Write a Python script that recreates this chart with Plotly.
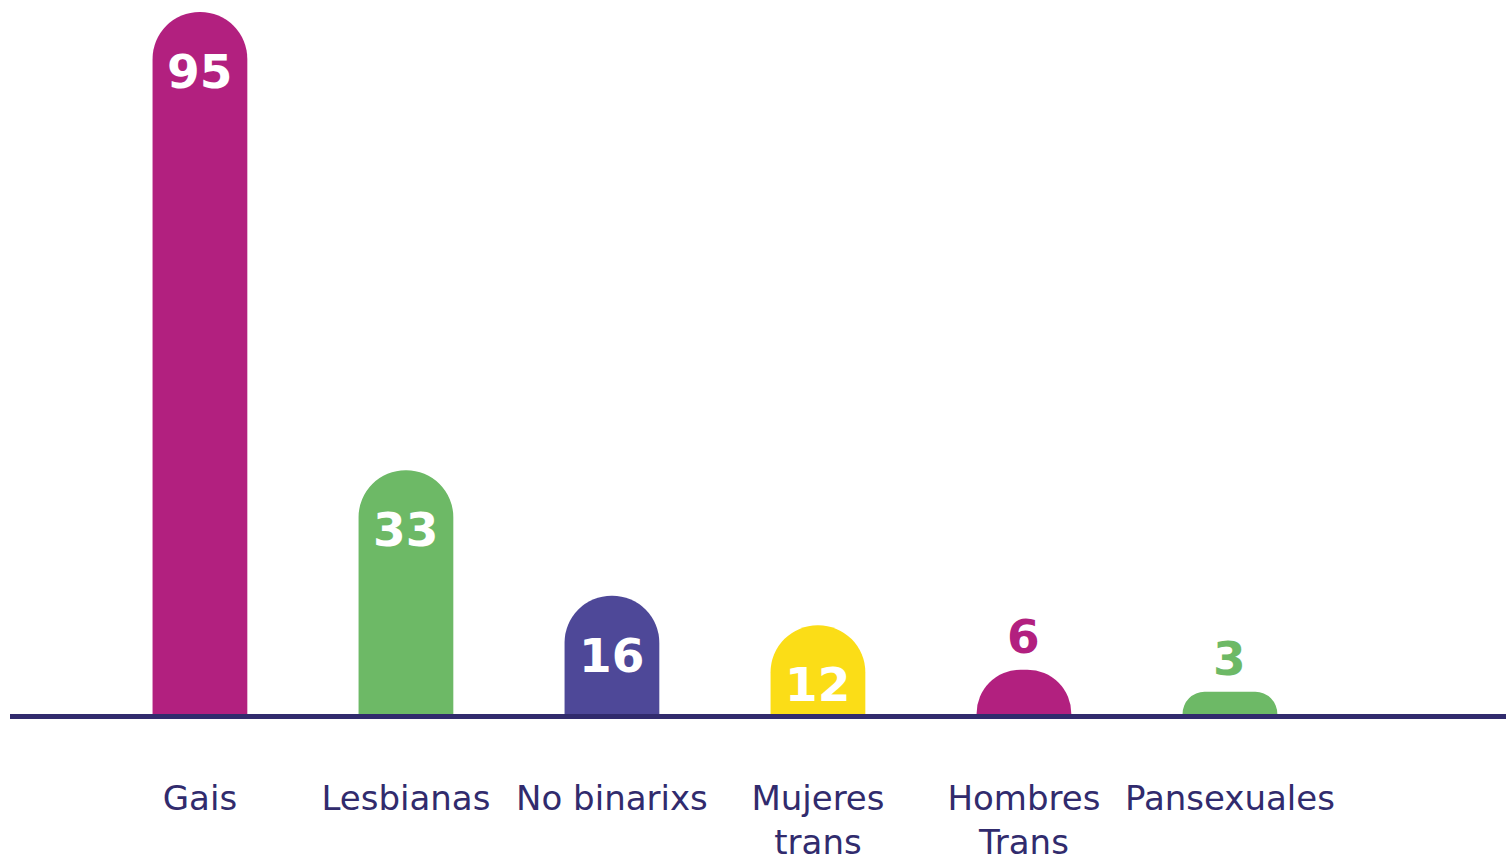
import plotly.graph_objects as go

categories = ["Gais", "Lesbianas", "No binarixs", "Mujeres<br>trans", "Hombres<br>Trans", "Pansexuales"]
values = [95, 33, 16, 12, 6, 3]
colors = ["#B2207F", "#6DB966", "#4E4898", "#FBDD17", "#B2207F", "#6DB966"]

NAVY = "#312B6D"

fig = go.Figure(
    go.Bar(
        x=categories,
        y=values,
        marker=dict(color=colors, line=dict(width=0), cornerradius="50%"),
        width=0.46,
        hoverinfo="skip",
    )
)

# value labels: white inside the rounded top when the bar is tall enough, otherwise above in bar colour
for c, v, col in zip(categories, values, colors):
    inside = v >= 10
    fig.add_annotation(
        x=c, y=v, text=f"<b>{v}</b>", showarrow=False,
        yanchor="top" if inside else "bottom",
        yshift=-30 if inside else 4,
        font=dict(family="DejaVu Sans", size=47, color="white" if inside else col),
    )

fig.update_layout(
    width=1506, height=861,
    margin=dict(l=10, r=0, t=12, b=147),
    paper_bgcolor="white", plot_bgcolor="white",
    showlegend=False,
    xaxis=dict(
        type="category",
        range=[-0.922, 6.34],
        automargin=False,
        showgrid=False, zeroline=False,
        showline=True, linecolor=NAVY, linewidth=5,
        ticks="", ticklabelstandoff=50,
        tickfont=dict(family="DejaVu Sans", size=34, color=NAVY),
    ),
    yaxis=dict(range=[0, 95], visible=False, automargin=False, showgrid=False, zeroline=False),
)

fig.write_html("out.html")
